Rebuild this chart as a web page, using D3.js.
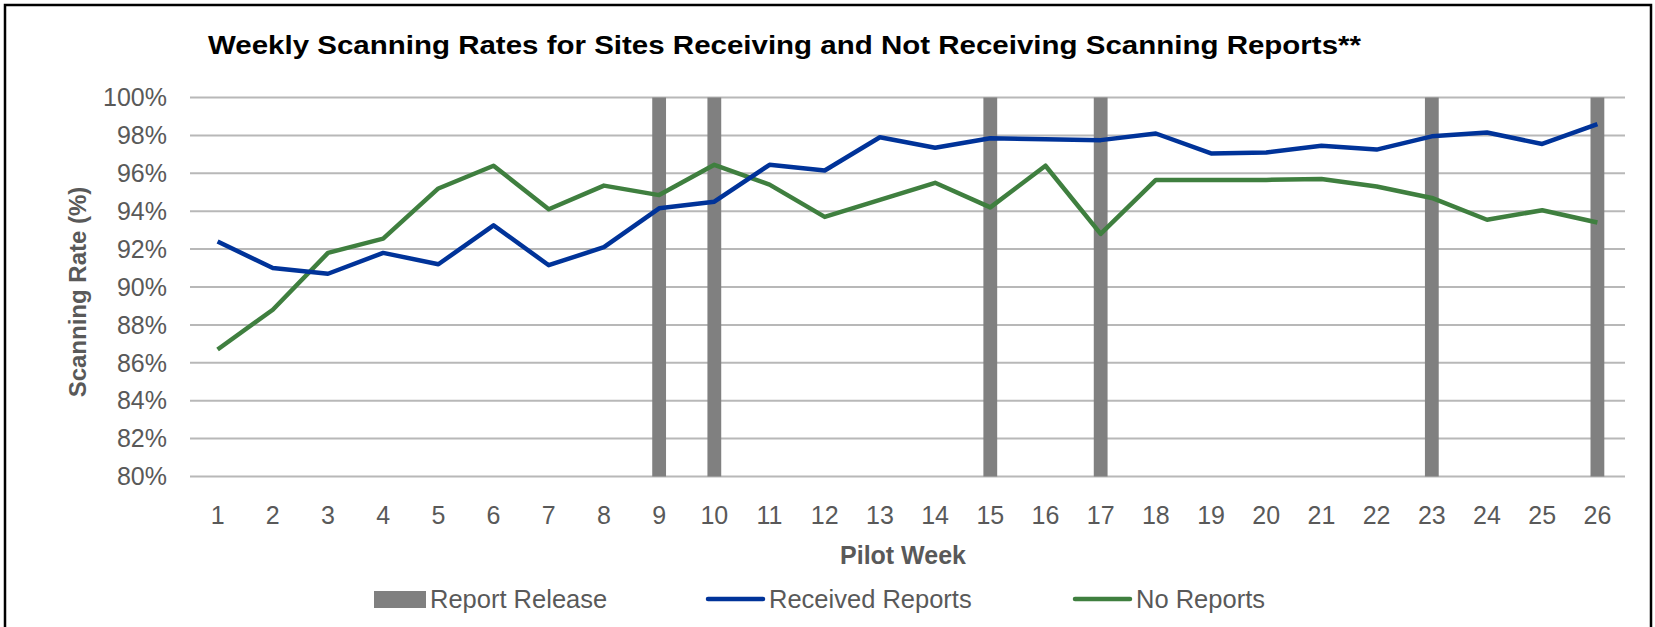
<!DOCTYPE html>
<meta charset="utf-8">
<style>
body { margin: 0; background: #fff; }
text { font-family: "Liberation Sans", Arial, sans-serif; fill: #595959; }
.grid line { stroke: #b8b8b8; stroke-width: 2px; }
.title { font-weight: bold; fill: #000; }
</style>
<svg width="1655" height="627"></svg>
<script src="https://d3js.org/d3.v7.min.js"></script>
<script>

var weeks = d3.range(1, 27);
var received = [92.4, 91.0, 90.7, 91.8, 91.2, 93.25, 91.15, 92.1, 94.15, 94.5,
                96.45, 96.15, 97.9, 97.35, 97.85, 97.8, 97.75, 98.1, 97.05, 97.1,
                97.45, 97.25, 97.95, 98.15, 97.55, 98.6];
var noReports = [86.7, 88.8, 91.8, 92.55, 95.2, 96.4, 94.1, 95.35, 94.85, 96.45,
                 95.4, 93.7, 94.6, 95.5, 94.2, 96.4, 92.8, 95.65, 95.65, 95.65,
                 95.7, 95.3, 94.7, 93.55, 94.05, 93.4];
var releaseWeeks = [9, 10, 15, 17, 23, 26];
var yTicks = [80, 82, 84, 86, 88, 90, 92, 94, 96, 98, 100];

var svg = d3.select("svg");

// outer frame
svg.append("rect")
    .attr("x", 5).attr("y", 5)
    .attr("width", 1646).attr("height", 640)
    .attr("fill", "none").attr("stroke", "#000").attr("stroke-width", 2.5);

var x = d3.scaleBand().domain(weeks).range([190, 1625]);
var y = d3.scaleLinear().domain([80, 100]).range([476.5, 97.5]);
var cx = function(w) { return x(w) + x.bandwidth() / 2; };

svg.append("text")
    .attr("class", "title")
    .attr("x", 208).attr("y", 54)
    .attr("font-size", 26)
    .attr("textLength", 1153)
    .attr("lengthAdjust", "spacingAndGlyphs")
    .text("Weekly Scanning Rates for Sites Receiving and Not Receiving Scanning Reports**");

// gridlines
svg.append("g")
    .attr("class", "grid")
  .selectAll("line")
  .data(yTicks)
  .enter().append("line")
    .attr("x1", 190).attr("x2", 1625)
    .attr("y1", function(d) { return y(d); })
    .attr("y2", function(d) { return y(d); });

// y tick labels
svg.append("g")
  .selectAll("text")
  .data(yTicks)
  .enter().append("text")
    .attr("x", 167)
    .attr("y", function(d) { return y(d); })
    .attr("dy", "0.35em")
    .attr("text-anchor", "end")
    .attr("font-size", 25)
    .text(function(d) { return d + "%"; });

// report release bars
var barW = x.bandwidth() * 0.25;
svg.append("g")
  .selectAll("rect")
  .data(releaseWeeks)
  .enter().append("rect")
    .attr("x", function(d) { return cx(d) - barW / 2; })
    .attr("y", y(100))
    .attr("width", barW)
    .attr("height", y(80) - y(100))
    .attr("fill", "#808080");

var line = d3.line()
    .x(function(d, i) { return cx(weeks[i]); })
    .y(function(d) { return y(d); });

svg.append("path")
    .datum(noReports)
    .attr("d", line)
    .attr("fill", "none")
    .attr("stroke", "#3f7f3f")
    .attr("stroke-width", 4.5)
    .attr("stroke-linejoin", "round");

svg.append("path")
    .datum(received)
    .attr("d", line)
    .attr("fill", "none")
    .attr("stroke", "#003399")
    .attr("stroke-width", 4.5)
    .attr("stroke-linejoin", "round");

// x tick labels
svg.append("g")
  .selectAll("text")
  .data(weeks)
  .enter().append("text")
    .attr("x", function(d) { return cx(d); })
    .attr("y", 515)
    .attr("dy", "0.35em")
    .attr("text-anchor", "middle")
    .attr("font-size", 25)
    .text(function(d) { return d; });

// axis titles
svg.append("text")
    .attr("x", 903).attr("y", 555)
    .attr("dy", "0.35em")
    .attr("text-anchor", "middle")
    .attr("font-size", 25)
    .attr("font-weight", "bold")
    .text("Pilot Week");

svg.append("text")
    .attr("transform", "translate(78,292) rotate(-90)")
    .attr("dy", "0.35em")
    .attr("text-anchor", "middle")
    .attr("font-size", 24)
    .attr("font-weight", "bold")
    .text("Scanning Rate (%)");

// legend
var legend = svg.append("g");
legend.append("rect")
    .attr("x", 374).attr("y", 591)
    .attr("width", 52).attr("height", 17)
    .attr("fill", "#808080");
legend.append("text")
    .attr("x", 430).attr("y", 599).attr("dy", "0.35em")
    .attr("font-size", 25.5)
    .text("Report Release");

var legendLines = [
  { x: 708, color: "#003399", label: "Received Reports" },
  { x: 1075, color: "#3f7f3f", label: "No Reports" }
];
legendLines.forEach(function(d) {
  legend.append("line")
      .attr("x1", d.x).attr("x2", d.x + 55)
      .attr("y1", 599).attr("y2", 599)
      .attr("stroke", d.color).attr("stroke-width", 4.5)
      .attr("stroke-linecap", "round");
  legend.append("text")
      .attr("x", d.x + 61).attr("y", 599).attr("dy", "0.35em")
      .attr("font-size", 25.5)
      .text(d.label);
});

</script>
